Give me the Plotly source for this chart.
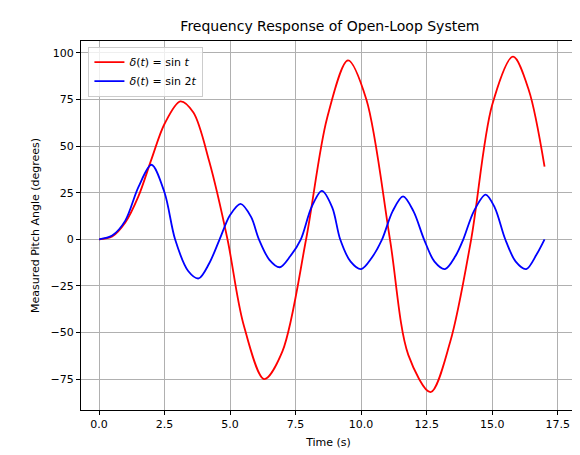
import plotly.graph_objects as go

# values
t_sin1 = [0, 0.5, 1, 1.5, 2, 2.5, 3.1, 3.6, 4.2, 4.9, 5.5, 6.3, 7.0, 7.9, 8.7, 9.5,
          10.2, 11.1, 11.8, 12.65, 13.4, 14.2, 15.0, 15.8, 16.4, 17]
y_sin1 = [0, 1.5, 9, 23, 43, 62, 74, 68, 42, 0, -45, -75, -60, 0, 65, 96,
          75, 0, -62, -82, -55, 0, 72, 98, 80, 39]

t_sin2 = [0, 0.5, 1, 1.5, 2.0, 2.5, 2.9, 3.4, 3.8, 4.2, 4.6, 5.0, 5.4, 5.8, 6.1,
          6.5, 6.9, 7.3, 7.7, 8.1, 8.5, 8.9, 9.2, 9.6, 10.0, 10.4, 10.8, 11.2,
          11.6, 12.0, 12.4, 12.8, 13.2, 13.6, 13.9, 14.3, 14.75, 15.1, 15.5,
          15.9, 16.3, 16.7, 17]
y_sin2 = [0, 2, 10, 28, 40, 25, 0, -17, -21, -13, 0, 13, 19, 12, 0,
          -11, -15, -9, 0, 17, 26, 17, 0, -12, -16, -10, 0, 15,
          23, 15, 0, -12, -16, -9, 0, 15, 24, 17, 0,
          -12, -16, -8, 0]

x_ticks = [0, 2.5, 5, 7.5, 10, 12.5, 15, 17.5]
y_ticks = [-75, -50, -25, 0, 25, 50, 75, 100]

fig = go.Figure()
fig.add_trace(go.Scatter(x=t_sin1, y=y_sin1, mode="lines", line=dict(color="red", width=1.8, shape="spline", smoothing=0.9),
                         name="<i>δ</i>(<i>t</i>) = sin <i>t</i>"))
fig.add_trace(go.Scatter(x=t_sin2, y=y_sin2, mode="lines", line=dict(color="blue", width=1.8, shape="spline", smoothing=0.9),
                         name="<i>δ</i>(<i>t</i>) = sin 2<i>t</i>"))

axis_style = dict(showgrid=True, gridcolor="#b0b0b0", gridwidth=1, zeroline=False,
                  showline=True, linecolor="black", mirror=True, ticks="outside",
                  ticklen=4, tickcolor="black", tickfont=dict(size=11, color="black"),
                  automargin=False)

fig.update_layout(
    width=580, height=455,
    margin=dict(l=73, r=12, t=33, b=53),
    paper_bgcolor="white", plot_bgcolor="white",
    font=dict(family="DejaVu Sans", color="black"),
    title=dict(text="Frequency Response of Open-Loop System", x=0.555, xanchor="center",
               y=0.96, yanchor="middle", font=dict(size=14)),
    legend=dict(x=0.015, y=0.985, xanchor="left", yanchor="top", bgcolor="rgba(255,255,255,0.8)",
                bordercolor="#cccccc", borderwidth=1, font=dict(size=11)),
    xaxis=dict(range=[-0.69, 18.2], tickvals=x_ticks, ticktext=[f"{v:.1f}" for v in x_ticks],
               title=dict(text="Time (s)", font=dict(size=11), standoff=8), **axis_style),
    yaxis=dict(range=[-91.6, 106.4], tickvals=y_ticks,
               title=dict(text="Measured Pitch Angle (degrees)", font=dict(size=11), standoff=8), **axis_style),
)

fig.write_html("out.html")
